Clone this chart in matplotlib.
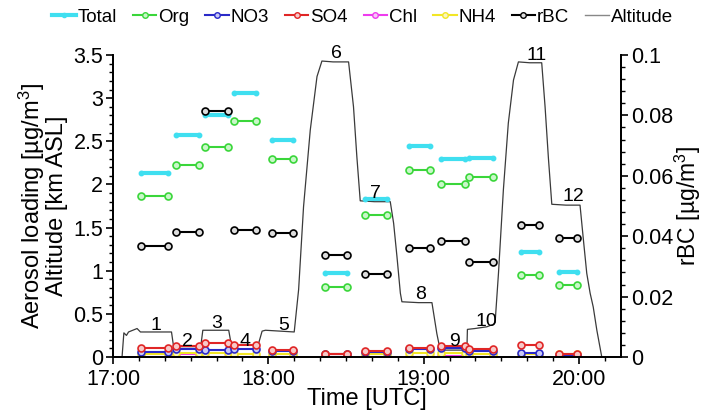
import matplotlib
matplotlib.use("Agg")
import matplotlib.pyplot as plt
from matplotlib.ticker import MultipleLocator, FormatStrFormatter
from matplotlib.lines import Line2D

plt.rcParams['font.family'] = ['Liberation Sans', 'DejaVu Sans']
plt.rcParams['mathtext.fontset'] = 'custom'
plt.rcParams['mathtext.rm'] = 'Liberation Sans'
plt.rcParams['mathtext.it'] = 'Liberation Sans:italic'

# legs: start / end in minutes after 17:00 UTC
leg_start = [10.8, 24.2, 35.4, 46.9, 61.4, 82.0, 97.4, 114.2, 126.7, 137.7, 157.5, 172.3]
leg_end = [21.4, 33.1, 44.3, 55.3, 69.7, 90.4, 105.8, 122.5, 136.0, 146.9, 164.6, 179.4]

# aerosol loading [ug/m3]
total = [2.13, 2.57, 2.81, 3.06, 2.52, 0.97, 1.83, 2.45, 2.29, 2.31, 1.22, 0.98]
org = [1.87, 2.23, 2.43, 2.74, 2.30, 0.815, 1.645, 2.167, 2.005, 2.086, 0.95, 0.834]
no3 = [0.055, 0.093, 0.08, 0.093, 0.07, 0.03, 0.055, 0.093, 0.10, 0.07, 0.05, 0.02]
so4 = [0.108, 0.125, 0.166, 0.14, 0.08, 0.04, 0.073, 0.11, 0.127, 0.09, 0.14, 0.035]
chl = [0.003, 0.03, 0.003, 0.003, 0.005, 0.003, 0.003, 0.005, 0.01, 0.005, 0.005, 0.003]
nh4 = [0.03, 0.05, 0.05, 0.035, 0.035, 0.035, 0.03, 0.043, 0.05, 0.035, 0.035, 0.03]
rbc = [0.0367, 0.0415, 0.0815, 0.042, 0.041, 0.0338, 0.0274, 0.0362, 0.0384, 0.0314, 0.0436, 0.0395]

# altitude profile [km ASL]
alt_time = [3.5, 4.2, 5.2, 6.0, 9.3, 10.6, 22.6, 23.5, 33.8, 34.7, 44.7, 46.0, 55.6, 57.6,
            58.9, 70.0, 71.7, 73.6, 76.2, 78.8, 80.7, 85.0, 91.0, 92.9, 94.2, 95.5, 101.0,
            107.1, 108.4, 109.7, 111.0, 111.6, 118.0, 123.2, 125.1, 126.4, 131.0, 136.7,
            136.9, 139.8, 144.4, 147.0, 147.6, 148.9, 150.8, 152.7, 154.7, 156.6, 161.0,
            165.6, 166.9, 168.2, 169.5, 175.0, 180.4, 181.7, 183.0, 184.3, 185.5, 186.9, 188.8]
alt_km = [0.0, 0.28, 0.25, 0.29, 0.33, 0.29, 0.29, 0.10, 0.10, 0.31, 0.31, 0.09, 0.09, 0.30,
          0.31, 0.29, 0.78, 1.74, 2.63, 3.25, 3.43, 3.42, 3.42, 2.90, 2.32, 1.81, 1.80,
          1.80, 1.55, 1.16, 0.74, 0.64, 0.63, 0.63, 0.27, 0.08, 0.08, 0.08,
          0.32, 0.33, 0.35, 0.38, 0.40, 0.97, 1.94, 2.71, 3.21, 3.42, 3.41,
          3.41, 2.90, 2.30, 1.77, 1.76, 1.76, 1.36, 0.97, 0.74, 0.58, 0.31, 0.0]

leg_names = ['1', '2', '3', '4', '5', '6', '7', '8', '9', '10', '11', '12']
label_x = [16.4, 28.9, 40.2, 51.1, 65.9, 86.5, 101.3, 118.7, 131.8, 144.4, 163.7, 177.8]
label_y = [0.37, 0.18, 0.39, 0.18, 0.37, 3.52, 1.90, 0.72, 0.18, 0.41, 3.50, 1.86]

c_total = '#3fdff0'
c_org = '#3ad63a'
c_no3 = '#2a2ac8'
c_so4 = '#e02626'
c_chl = '#ee3cee'
c_nh4 = '#f2e626'

fig = plt.figure(figsize=(7.04, 4.12), dpi=100)
ax = fig.add_axes([0.1605, 0.1335, 0.7215, 0.733])
ax2 = ax.twinx()

def draw(a, values, color, lw, ms, mfc):
    for s, e, v in zip(leg_start, leg_end, values):
        a.plot([s, e], [v, v], color=color, lw=lw, marker='o', ms=ms,
               mfc=mfc, mec=color, mew=1.2, solid_capstyle='butt')

ax.plot(alt_time, alt_km, color='#3a3a3a', lw=0.9, zorder=1)
draw(ax, total, c_total, 3.0, 3, c_total)
draw(ax, org, c_org, 1.5, 5, '#c9f7c9')
draw(ax, chl, c_chl, 1.5, 5, '#f7c9f7')
draw(ax, nh4, c_nh4, 1.5, 5, '#fbf6c0')
draw(ax, no3, c_no3, 1.5, 5, '#c9c9f7')
draw(ax, so4, c_so4, 1.5, 5, '#f7c9c9')
draw(ax2, rbc, 'black', 1.5, 5, '#dddddd')

for name, x, y in zip(leg_names, label_x, label_y):
    ax.text(x, y, name, fontsize=14, ha='center', va='center')

ax.set_xlim(0, 196.2)
ax.set_ylim(0, 3.5)
ax2.set_ylim(0, 0.1)

ax.set_xticks([0, 60, 120, 180])
ax.set_xticklabels(['17:00', '18:00', '19:00', '20:00'])
ax.xaxis.set_minor_locator(MultipleLocator(10))
ax.yaxis.set_major_locator(MultipleLocator(0.5))
ax.yaxis.set_minor_locator(MultipleLocator(0.1))
ax.yaxis.set_major_formatter(FormatStrFormatter('%g'))
ax2.yaxis.set_major_locator(MultipleLocator(0.02))
ax2.yaxis.set_minor_locator(MultipleLocator(0.004))
ax2.yaxis.set_major_formatter(FormatStrFormatter('%g'))

for a in (ax, ax2):
    a.spines['top'].set_visible(False)
    a.tick_params(which='major', length=5, width=1.2, labelsize=15.5, pad=2)
    a.tick_params(which='minor', length=3, width=1)
    for sp in a.spines.values():
        sp.set_linewidth(1.3)
ax.tick_params(axis='x', which='major', pad=4)

ax.set_xlabel('Time [UTC]', fontsize=17, labelpad=-2)
ax.set_ylabel('Aerosol loading [µg/m$^3$]\nAltitude [km ASL]', fontsize=17,
              linespacing=0.95, labelpad=4)
ax2.set_ylabel('rBC [µg/m$^3$]', fontsize=16.5, labelpad=0)

handles = [
    Line2D([], [], color=c_total, lw=3, marker='o', ms=3),
    Line2D([], [], color=c_org, lw=1.5, marker='o', ms=4, mfc='#c9f7c9'),
    Line2D([], [], color=c_no3, lw=1.5, marker='o', ms=4, mfc='#c9c9f7'),
    Line2D([], [], color=c_so4, lw=1.5, marker='o', ms=4, mfc='#f7c9c9'),
    Line2D([], [], color=c_chl, lw=1.5, marker='o', ms=4, mfc='#f7c9f7'),
    Line2D([], [], color=c_nh4, lw=1.5, marker='o', ms=4, mfc='#fbf6c0'),
    Line2D([], [], color='black', lw=1.5, marker='o', ms=4, mfc='#dddddd'),
    Line2D([], [], color='#888888', lw=1.0),
]
names = ['Total', 'Org', 'NO3', 'SO4', 'Chl', 'NH4', 'rBC', 'Altitude']
fig.legend(handles, names, loc='center', bbox_to_anchor=(0.515, 0.958), ncol=8,
           frameon=False, fontsize=13.5, handlelength=1.25, handletextpad=0.1,
           columnspacing=0.85, borderaxespad=0)

fig.savefig('out.png', dpi=100)
